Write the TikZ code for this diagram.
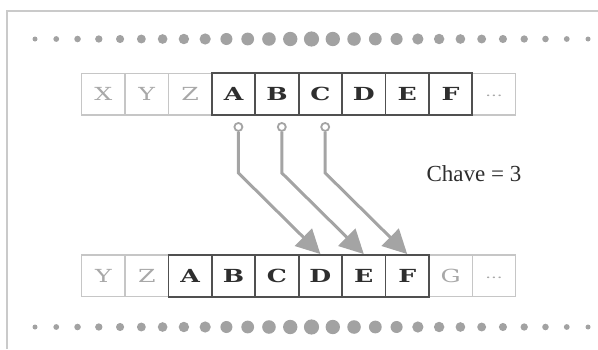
\documentclass[tikz,border=0pt]{standalone}
\usepackage{fontspec}
\setmainfont{Liberation Serif}
\newfontfamily\boxfont[FakeStretch=1.4]{DejaVu Serif}
\usetikzlibrary{arrows.meta,calc}

\definecolor{frameg}{HTML}{CACACA}
\definecolor{dotg}{HTML}{A2A2A2}
\definecolor{lightedge}{HTML}{C6C6C6}
\definecolor{lighttext}{HTML}{A8A8A8}
\definecolor{darkedge}{HTML}{505050}
\definecolor{darktext}{HTML}{2E2E2E}
\definecolor{conng}{HTML}{A4A4A4}

% the "more letters" mark in the last cell of each row
\newcommand\moremark{{\fontsize{13}{13}\selectfont\raisebox{-2.5pt}{...}}}

\tikzset{
  cell/.style={draw, minimum width=43.4pt, minimum height=41.7pt, inner sep=0pt,
    text depth=0pt, font=\boxfont\fontsize{18}{18}\selectfont},
  lightcell/.style={cell, draw=lightedge, line width=1.3pt, text=lighttext},
  darkcell/.style={cell, draw=darkedge, line width=1.8pt, text=darktext,
    font=\boxfont\bfseries\fontsize{18}{18}\selectfont},
  pinc/.style={circle, draw=conng, fill=white, line width=1.8pt,
    minimum size=8pt, inner sep=0pt},
  conn/.style={draw=conng, line width=3pt,
    -{Triangle[length=24pt,width=24pt,fill=conng]}},
  keytext/.style={text=darktext, font=\fontsize{23}{23}\selectfont}
}

\begin{document}
\begin{tikzpicture}[x=1pt,y=-1pt]
\useasboundingbox (0,0) rectangle (598,349);

% page frame
\draw[frameg, line width=1.2pt] (7,349) -- (7,11) -- (598,11);

% dotted rules, dots growing towards the middle
\foreach \i in {0,...,26}{
  \pgfmathsetmacro\rad{2.5+0.39*(13-abs(\i-13))}
  \fill[dotg] (35+\i*21.27,39) circle (\rad);
  \fill[dotg] (35+\i*21.27,327) circle (\rad);
}

% upper row
\foreach \i/\t in {0/X,1/Y,2/Z,9/\moremark}
  \node[lightcell] (t\i) at (103.4+43.4*\i,94.2) {\t};
\foreach \i/\t in {3/A,4/B,5/C,6/D,7/E,8/F}
  \node[darkcell] (t\i) at (103.4+43.4*\i,94.2) {\t};

% lower row (shifted by the key)
\foreach \i/\t in {0/Y,1/Z,8/G,9/\moremark}
  \node[lightcell] (b\i) at (103.4+43.4*\i,275.8) {\t};
\foreach \i/\t in {2/A,3/B,4/C,5/D,6/E,7/F}
  \node[darkcell] (b\i) at (103.4+43.4*\i,275.8) {\t};

% pick-up points under A, B, C
\node[pinc] (p1) at ($(t3.south)+(4.8,11)$) {};
\node[pinc] (p2) at ($(t4.south)+(4.8,11)$) {};
\node[pinc] (p3) at ($(t5.south)+(4.8,11)$) {};

% shift arrows
\draw[conn] (p1.south) -- ($(p1.center)+(0,46)$) -- (b5.north);
\draw[conn] (p2.south) -- ($(p2.center)+(0,46)$) -- (b6.north);
\draw[conn] (p3.south) -- ($(p3.center)+(0,46)$) -- (b7.north);

\node[keytext] (key) at (474,174) {Chave = 3};
\end{tikzpicture}
\end{document}
